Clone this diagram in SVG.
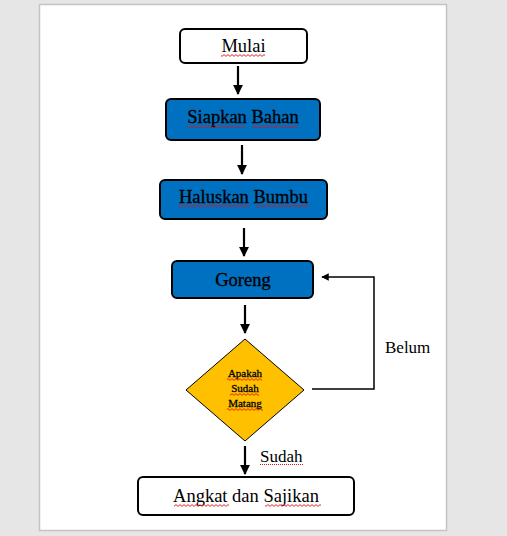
<svg xmlns="http://www.w3.org/2000/svg" width="507" height="536" viewBox="0 0 507 536">
<style>
.page{fill:#fff;stroke:#c4c4c4;stroke-width:1.5}
.box{stroke:#000;stroke-width:2}
.white{fill:#fff}
.blue{fill:#0070c0}
.lbl{font-family:"Liberation Serif","Times New Roman",serif;font-size:18.5px;fill:#000;text-anchor:middle}
.shd{stroke:#000;stroke-width:0.35}
.sm{font-family:"Liberation Serif","Times New Roman",serif;font-size:11px;fill:#000;text-anchor:middle;stroke:#000;stroke-width:0.3}
.edge{font-family:"Liberation Serif","Times New Roman",serif;font-size:17px;fill:#000}
.conn{stroke:#000;stroke-width:2.2;fill:none}
.loop{stroke:#000;stroke-width:1.5;fill:none}
.sq{fill:url(#wave)}
</style>
<defs>
<marker id="ah" viewBox="0 0 10 10" refX="9" refY="5" markerWidth="4.5" markerHeight="4.5" orient="auto" markerUnits="strokeWidth">
<path d="M0 0 L10 5 L0 10 Z" fill="#000"/>
</marker>
<marker id="ah2" viewBox="0 0 10 10" refX="9" refY="5" markerWidth="5" markerHeight="5" orient="auto" markerUnits="strokeWidth">
<path d="M0 0 L10 5 L0 10 Z" fill="#000"/>
</marker>
<pattern id="wave" width="4" height="3" patternUnits="userSpaceOnUse">
<path d="M0 0.6 L2 2.4 L4 0.6" fill="none" stroke="#e01010" stroke-width="0.9"/>
</pattern>
<pattern id="dots" width="2" height="2" patternUnits="userSpaceOnUse">
<rect x="0" y="0" width="1" height="1" fill="#e01010"/>
</pattern>
</defs>
<rect x="0" y="0" width="507" height="536" fill="#e6e6e6"/>
<rect class="page" x="39.5" y="4.5" width="407" height="526"/>

<g id="connectors">
<line class="conn" x1="238" y1="66" x2="238" y2="94" marker-end="url(#ah)"/>
<line class="conn" x1="242" y1="145" x2="242" y2="174" marker-end="url(#ah)"/>
<line class="conn" x1="244" y1="228" x2="244" y2="256" marker-end="url(#ah)"/>
<line class="conn" x1="245" y1="305" x2="245" y2="333" marker-end="url(#ah)"/>
<line class="conn" x1="245" y1="446" x2="245" y2="474" marker-end="url(#ah)"/>
<polyline class="loop" points="312,389 374,389 374,277 322,277" marker-end="url(#ah2)"/>
<text class="edge" x="385" y="353">Belum</text>
<text class="edge" x="260" y="462">Sudah</text>
<rect x="260" y="464" width="43" height="1" fill="url(#dots)"/>
</g>

<g id="mulai">
<rect class="box white" x="180" y="29" width="127" height="34" rx="5"/>
<text class="lbl" x="243.5" y="52">Mulai</text>
<rect class="sq" x="221" y="54" width="44" height="3"/>
</g>

<g id="siapkan">
<rect class="box blue" x="166" y="99" width="154" height="41" rx="5"/>
<text class="lbl shd" x="243" y="123">Siapkan Bahan</text>
<rect class="sq" x="187" y="125" width="58" height="3"/>
<rect class="sq" x="252" y="125" width="46" height="3"/>
</g>

<g id="haluskan">
<rect class="box blue" x="160" y="180" width="167" height="39" rx="5"/>
<text class="lbl shd" x="243.5" y="203">Haluskan Bumbu</text>
<rect class="sq" x="178" y="205" width="72" height="3"/>
<rect class="sq" x="256" y="205" width="53" height="3"/>
</g>

<g id="goreng">
<rect class="box blue" x="172" y="261" width="141" height="37" rx="5"/>
<text class="lbl shd" x="243" y="286">Goreng</text>
</g>

<g id="cek">
<polygon points="245,339 304,390 245,441 186,390" fill="#ffc000" stroke="#000" stroke-width="1"/>
<text class="sm" x="245" y="377">Apakah</text>
<text class="sm" x="245" y="392">Sudah</text>
<text class="sm" x="245" y="407">Matang</text>
<rect class="sq" x="227" y="378" width="35" height="3"/>
<rect class="sq" x="230" y="393" width="29" height="3"/>
<rect class="sq" x="227" y="408" width="36" height="3"/>
</g>

<g id="angkat">
<rect class="box white" x="138" y="477" width="216" height="38" rx="5"/>
<text class="lbl" x="246" y="502">Angkat dan Sajikan</text>
<rect class="sq" x="174" y="504" width="55" height="3"/>
<rect class="sq" x="265" y="504" width="56" height="3"/>
</g>
</svg>
